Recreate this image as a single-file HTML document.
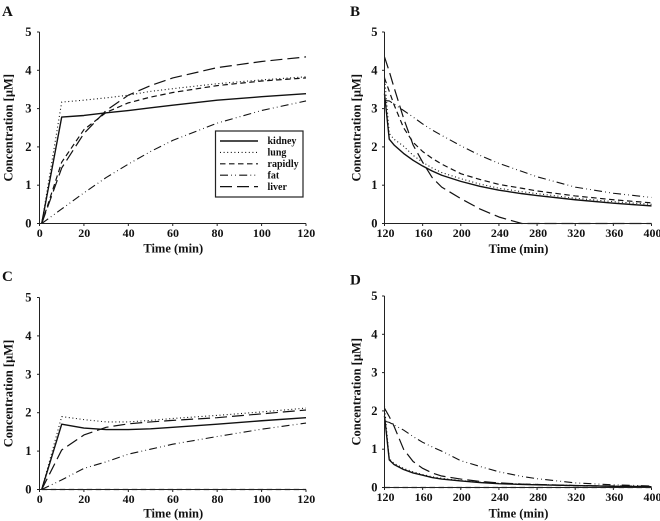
<!DOCTYPE html>
<html>
<head>
<meta charset="utf-8">
<title>Concentration time courses</title>
<style>
html,body{margin:0;padding:0;background:#fff;}
svg{display:block;filter:blur(0.3px);}
text{font-family:"Liberation Serif",serif;font-weight:bold;fill:#111;}
</style>
</head>
<body>
<svg id="figure" width="660" height="521" viewBox="0 0 660 521" xmlns="http://www.w3.org/2000/svg"></svg>
<script>
const seriesNames = ['kidney', 'lung', 'rapidly', 'fat', 'liver'];
const yTicks = [0, 1, 2, 3, 4, 5];
const uptakeTicks = [0, 20, 40, 60, 80, 100, 120];
const washoutTicks = [120, 160, 200, 240, 280, 320, 360, 400];
const uptakeTimes = [1, 10, 20, 30, 40, 50, 60, 80, 100, 120];
const washoutTimes = [120, 125, 130, 140, 150, 160, 170, 180, 200, 220, 240, 264, 280, 320, 360, 400];

const kidneyA = [0, 2.78, 2.82, 2.89, 2.95, 3.02, 3.09, 3.22, 3.31, 3.39];
const lungA = [0, 3.17, 3.22, 3.28, 3.35, 3.45, 3.52, 3.65, 3.75, 3.83];
const rapidlyA = [0, 1.6, 2.45, 2.9, 3.15, 3.3, 3.42, 3.6, 3.72, 3.8];
const fatA = [0, 0.38, 0.8, 1.2, 1.55, 1.88, 2.17, 2.62, 2.95, 3.2];
const liverA = [0, 1.45, 2.35, 2.95, 3.35, 3.6, 3.8, 4.07, 4.23, 4.35];

const kidneyB = [3.39, 2.2, 2.05, 1.83, 1.65, 1.5, 1.37, 1.26, 1.1, 0.97, 0.87, 0.78, 0.73, 0.62, 0.53, 0.46];
const lungB = [3.83, 2.35, 2.2, 2.02, 1.78, 1.6, 1.45, 1.33, 1.17, 1.03, 0.92, 0.83, 0.78, 0.66, 0.57, 0.5];
const rapidlyB = [3.8, 3.45, 3.1, 2.5, 2.12, 1.88, 1.7, 1.55, 1.3, 1.15, 1.02, 0.92, 0.85, 0.72, 0.62, 0.54];
const fatB = [3.21, 3.2, 3.12, 2.95, 2.78, 2.6, 2.44, 2.3, 2.03, 1.78, 1.57, 1.36, 1.22, 0.95, 0.79, 0.68];
const liverB = [4.35, 3.97, 3.55, 2.75, 2.05, 1.6, 1.2, 0.95, 0.65, 0.38, 0.17, 0, 0, 0, 0, 0];

const kidneyC = [0, 1.7, 1.6, 1.56, 1.56, 1.58, 1.62, 1.7, 1.79, 1.87];
const lungC = [0, 1.9, 1.82, 1.76, 1.76, 1.8, 1.85, 1.93, 2.02, 2.12];
const rapidlyC = [0, 0, 0, 0, 0, 0, 0, 0, 0, 0];
const fatC = [0, 0.25, 0.55, 0.72, 0.92, 1.05, 1.18, 1.38, 1.57, 1.73];
const liverC = [0, 1.03, 1.42, 1.62, 1.71, 1.76, 1.8, 1.87, 1.97, 2.07];

const kidneyD = [1.87, 0.72, 0.6, 0.47, 0.38, 0.32, 0.26, 0.22, 0.17, 0.13, 0.1, 0.08, 0.07, 0.05, 0.03, 0.02];
const lungD = [2.12, 0.75, 0.63, 0.5, 0.41, 0.34, 0.28, 0.24, 0.18, 0.14, 0.11, 0.09, 0.08, 0.05, 0.04, 0.03];
const rapidlyD = [0, 0, 0, 0, 0, 0, 0, 0, 0, 0, 0, 0, 0, 0, 0, 0];
const fatD = [1.73, 1.7, 1.63, 1.5, 1.33, 1.18, 1.06, 0.95, 0.7, 0.55, 0.41, 0.29, 0.23, 0.12, 0.07, 0.04];
const liverD = [2.07, 1.85, 1.6, 1.0, 0.68, 0.5, 0.38, 0.3, 0.22, 0.16, 0.12, 0.09, 0.08, 0.05, 0.04, 0.03];

const NS = 'http://www.w3.org/2000/svg';
const figure = document.getElementById('figure');

const styles = {
  kidney: {dash: '', width: 1.4},
  lung: {dash: '1 2.6', width: 1.1},
  rapidly: {dash: '5.5 3.5', width: 1.2},
  fat: {dash: '8 3.2 0.8 3.2 0.8 3.2', width: 1.1},
  liver: {dash: '12 5', width: 1.2}
};

function make(tag, attrs, parent, text) {
  const el = document.createElementNS(NS, tag);
  for (const k in attrs) el.setAttribute(k, attrs[k]);
  if (text !== undefined) el.textContent = text;
  (parent || figure).appendChild(el);
  return el;
}

function drawPanel(p) {
  const g = make('g', {}, figure);
  
  
  const xScale = v => p.x0 + (v - p.xMin) / (p.xMax - p.xMin) * (p.x1 - p.x0);
  const yScale = v => p.y0 + (v / 5) * (p.y1 - p.y0);

  const title = make('text', {x: p.letterX, y: p.letterY, 'font-size': 15}, g, p.letter);
  
  

  p.series.forEach((values, i) => {
    const name = seriesNames[i];
    const pts = values.map((v, j) => xScale(p.times[j]).toFixed(2) + ',' + yScale(v).toFixed(2)).join(' ');
    const line = make('polyline', {points: pts, fill: 'none', stroke: '#111', 'stroke-width': styles[name].width, 'stroke-dasharray': styles[name].dash, 'stroke-linejoin': 'round'}, g);
    
    
  });

  const yAxis = make('line', {x1: p.x0, x2: p.x0, y1: p.y0 + 0.5, y2: p.y1, stroke: '#222', 'stroke-width': 1}, g);
  
  
  const xAxis = make('line', {x1: p.x0, x2: p.x1, y1: p.y0, y2: p.y0, stroke: '#222', 'stroke-width': 1}, g);
  
  

  yTicks.forEach(t => {
    const y = yScale(t);
    const tick = make('line', {x1: p.x0 - 2.5, x2: p.x0, y1: y, y2: y, stroke: '#222', 'stroke-width': 1}, g);
    
    
    const label = make('text', {x: p.x0 - p.yLabelGap, y: y + 4, 'font-size': 12.5, 'text-anchor': 'end'}, g, t);
    
    
  });

  p.ticks.forEach(t => {
    const x = xScale(t);
    const tick = make('line', {x1: x, x2: x, y1: p.y0, y2: p.y0 + 2.5, stroke: '#222', 'stroke-width': 1}, g);
    
    
    const label = make('text', {x: x + p.xLabelShift, y: p.y0 + 13.5, 'font-size': 12, 'text-anchor': 'middle'}, g, t);
    
    
  });

  const xTitle = make('text', {x: (p.x0 + p.x1) / 2 + 0.5, y: p.y0 + p.xTitleGap, 'font-size': 12.5, 'text-anchor': 'middle'}, g, 'Time (min)');
  
  
  const cx = p.x0 - p.yTitleGap, cy = (p.y0 + p.y1) / 2;
  const yTitle = make('text', {x: cx, y: cy, 'font-size': 12.5, 'text-anchor': 'middle', transform: 'rotate(-90 ' + cx + ' ' + cy + ')'}, g, 'Concentration [µM]');
  
  
}

drawPanel({letter: 'A', letterX: 2, letterY: 16, x0: 39.5, x1: 306, xMin: 0, xMax: 120, y0: 223.5, y1: 32, yLabelGap: 8, xLabelShift: 0.3, xTitleGap: 29, yTitleGap: 27, ticks: uptakeTicks, times: uptakeTimes, series: [kidneyA, lungA, rapidlyA, fatA, liverA]});
drawPanel({letter: 'B', letterX: 350, letterY: 16, x0: 384.5, x1: 651.5, xMin: 120, xMax: 400, y0: 223.5, y1: 32, yLabelGap: 7, xLabelShift: 1, xTitleGap: 29.5, yTitleGap: 24, ticks: washoutTicks, times: washoutTimes, series: [kidneyB, lungB, rapidlyB, fatB, liverB]});
drawPanel({letter: 'C', letterX: 2, letterY: 281, x0: 39.5, x1: 306, xMin: 0, xMax: 120, y0: 489.5, y1: 297.5, yLabelGap: 8, xLabelShift: 0.3, xTitleGap: 28, yTitleGap: 27, ticks: uptakeTicks, times: uptakeTimes, series: [kidneyC, lungC, rapidlyC, fatC, liverC]});
drawPanel({letter: 'D', letterX: 350, letterY: 284.5, x0: 384.5, x1: 651.5, xMin: 120, xMax: 400, y0: 487.5, y1: 296, yLabelGap: 7, xLabelShift: 1, xTitleGap: 30, yTitleGap: 24, ticks: washoutTicks, times: washoutTimes, series: [kidneyD, lungD, rapidlyD, fatD, liverD]});

const legend = make('g', {}, figure);


const legendBox = make('rect', {x: 215.5, y: 131, width: 87.5, height: 66, fill: '#fff', stroke: '#222', 'stroke-width': 1.2}, legend);


seriesNames.forEach((name, i) => {
  const y = 141 + i * 11.4;
  const swatch = make('line', {x1: 220, x2: 258, y1: y, y2: y, stroke: '#111', 'stroke-width': styles[name].width, 'stroke-dasharray': styles[name].dash}, legend);
  
  
  const label = make('text', {x: 267.5, y: y + 3.2, 'font-size': 10}, legend, name);
  
  
});
</script>
</body>
</html>
